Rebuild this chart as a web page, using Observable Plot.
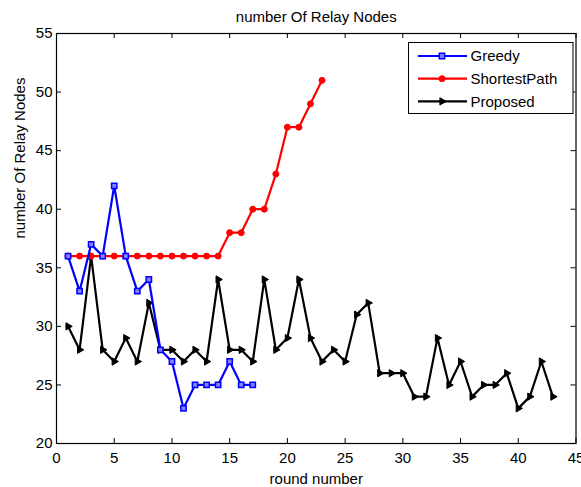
<!DOCTYPE html>
<html><head><meta charset="utf-8">
<script src="https://cdn.jsdelivr.net/npm/d3@7"></script>
<script src="https://cdn.jsdelivr.net/npm/@observablehq/plot@0.6"></script>
<style>body{margin:0;background:#fff}</style>
</head><body><div id="chart"></div>
<script>
// ---- data ----
const greedyRounds = d3.range(1, 18);
const greedyValues = [36,33,37,36,42,36,33,34,28,27,23,25,25,25,27,25,25];
const shortestRounds = d3.range(1, 24);
const shortestValues = [36,36,36,36,36,36,36,36,36,36,36,36,36,36,38,38,40,40,43,47,47,49,51];
const proposedRounds = d3.range(1, 44);
const proposedValues = [30,28,36,28,27,29,27,32,28,28,27,28,27,34,28,28,27,34,28,29,34,29,27,28,27,31,32,26,26,26,24,24,29,25,27,24,25,25,26,23,24,27,24];
const xTicks = [0,5,10,15,20,25,30,35,40,45];
const yTicks = [20,25,30,35,40,45,50,55];
const seriesNames = ["Greedy","ShortestPath","Proposed"];
const seriesColors = ["#0000ff","#ff0000","#000000"];
const titleText = "number Of Relay Nodes";
const xLabel = "round number";
const yLabel = "number Of Relay Nodes";

const W = 581, H = 487, mL = 56, mR = 5.5, mT = 33, mB = 44;
const pw = W - mL - mR, ph = H - mT - mB;
const font = "'Liberation Sans', Arial, sans-serif";

const triRight = {draw(ctx, size){
  const a = Math.sqrt(4*size/Math.sqrt(3)), h = a*Math.sqrt(3)/2;
  ctx.moveTo(2*h/3, 0); ctx.lineTo(-h/3, -a/2); ctx.lineTo(-h/3, a/2); ctx.closePath();
}};
const symbols = ["square","circle",triRight];
const radii = [3, 3, 2.7];

const mk = (xs, ys) => xs.map((x,i)=>({x, y: ys[i]}));
const greedy = mk(greedyRounds, greedyValues);
const shortest = mk(shortestRounds, shortestValues);
const proposed = mk(proposedRounds, proposedValues);

const chart = Plot.plot({
  width: W, height: H,
  marginLeft: mL, marginRight: mR, marginTop: mT, marginBottom: mB,
  style: {fontFamily: font, fontSize: "15px", background: "white", color: "black"},
  x: {domain: [0,45]},
  y: {domain: [20,55]},
  marks: [
    Plot.tickX(xTicks, {x: d=>d, insetTop: ph-5, stroke:"black"}),
    Plot.tickX(xTicks, {x: d=>d, insetBottom: ph-5, stroke:"black"}),
    Plot.tickY(yTicks, {y: d=>d, insetRight: pw-5, stroke:"black"}),
    Plot.tickY(yTicks, {y: d=>d, insetLeft: pw-5, stroke:"black"}),
    Plot.axisX({ticks: xTicks, tickSize: 0, tickPadding: 9, label: null, tickFormat: d=>d, fontSize: 15}),
    Plot.axisY({ticks: yTicks, tickSize: 0, tickPadding: 4, label: null, tickFormat: d=>d, fontSize: 15}),
    Plot.line(proposed, {x:"x", y:"y", stroke: seriesColors[2], strokeWidth: 2.2}),
    Plot.dot(proposed, {x:"x", y:"y", symbol: symbols[2], r: radii[2], fill: seriesColors[2], stroke: seriesColors[2], strokeWidth: 1}),
    Plot.line(shortest, {x:"x", y:"y", stroke: seriesColors[1], strokeWidth: 2.2}),
    Plot.dot(shortest, {x:"x", y:"y", symbol: symbols[1], r: radii[1], fill: seriesColors[1], stroke: seriesColors[1], strokeWidth: 1}),
    Plot.line(greedy, {x:"x", y:"y", stroke: seriesColors[0], strokeWidth: 2.2}),
    Plot.dot(greedy, {x:"x", y:"y", symbol: symbols[0], r: radii[0], fill: "#8080ff", stroke: seriesColors[0], strokeWidth: 1.5}),
    Plot.frame({stroke: "black", strokeWidth: 1.2}),
    Plot.text([titleText], {frameAnchor: "top", dy: -16, lineAnchor: "middle", fontSize: 15, fill: "black"}),
    Plot.text([xLabel], {frameAnchor: "bottom", dy: 35.7, lineAnchor: "middle", fontSize: 15, fill: "black"}),
    Plot.text([yLabel], {frameAnchor: "left", dx: -36.3, rotate: -90, lineAnchor: "middle", fontSize: 15, fill: "black"})
  ]
});
document.getElementById("chart").appendChild(chart);

// legend
const svg = d3.select(chart.tagName.toLowerCase() === "svg" ? chart : chart.querySelector("svg"));
const lg = svg.append("g").attr("font-family", font).attr("font-size", 15).attr("text-anchor", "start");
lg.append("rect").attr("x", 408.5).attr("y", 42.5).attr("width", 164.5).attr("height", 71)
  .attr("fill", "white").attr("stroke", "black").attr("stroke-width", 1);
seriesNames.forEach((name, i) => {
  const cy = 56 + i*22.7;
  lg.append("line").attr("x1", 418).attr("x2", 467).attr("y1", cy).attr("y2", cy)
    .attr("stroke", seriesColors[i]).attr("stroke-width", 2.2);
  lg.append("path").attr("transform", `translate(442,${cy})`)
    .attr("d", d3.symbol(i===0 ? d3.symbolSquare : i===1 ? d3.symbolCircle : triRight, Math.PI*radii[i]*radii[i])())
    .attr("fill", i===0 ? "#8080ff" : seriesColors[i]).attr("stroke", seriesColors[i]).attr("stroke-width", i===0?1.5:1);
  lg.append("text").attr("x", 470.5).attr("y", cy).attr("dy", "0.35em").attr("text-anchor", "start").attr("fill", "black").text(name);
});
</script></body></html>
